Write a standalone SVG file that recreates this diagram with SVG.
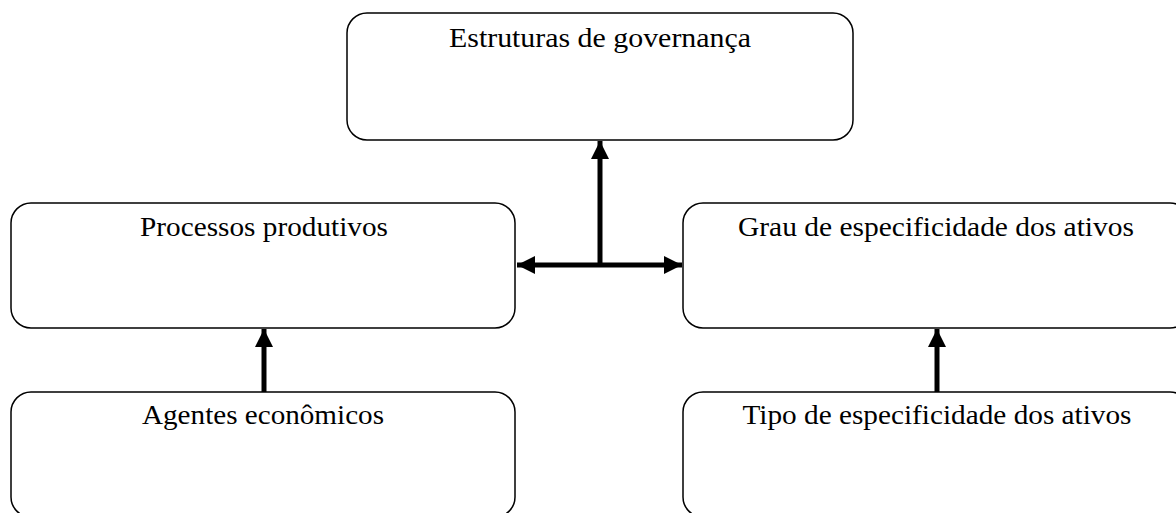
<svg xmlns="http://www.w3.org/2000/svg" width="1176" height="513" viewBox="0 0 1176 513">
<style>
.box{fill:#fff;stroke:#000;stroke-width:1.5}
.lbl{font-family:"Liberation Serif","DejaVu Serif",serif;font-size:28px;fill:#000;text-anchor:middle}
.con{stroke:#000;stroke-width:5;fill:none}
</style>
<defs>
<marker id="ah" viewBox="0 0 10 10" refX="10" refY="5" markerWidth="3.6" markerHeight="3.6" markerUnits="strokeWidth" orient="auto-start-reverse">
<path d="M0,0 L10,5 L0,10 z" fill="#000"/>
</marker>
</defs>
<rect width="1176" height="513" fill="#fff"/>
<g id="estruturas">
<rect class="box" x="347" y="13" width="506" height="127" rx="20"/>
<text class="lbl" x="600" y="47" textLength="302" lengthAdjust="spacingAndGlyphs">Estruturas de governança</text>
</g>
<g id="processos">
<rect class="box" x="11" y="203" width="504" height="125" rx="20"/>
<text class="lbl" x="264" y="236" textLength="248" lengthAdjust="spacingAndGlyphs">Processos produtivos</text>
</g>
<g id="grau">
<rect class="box" x="683" y="203" width="507" height="125" rx="20"/>
<text class="lbl" x="936" y="236" textLength="396" lengthAdjust="spacingAndGlyphs">Grau de especificidade dos ativos</text>
</g>
<g id="agentes">
<rect class="box" x="11" y="392" width="504" height="125" rx="20"/>
<text class="lbl" x="263" y="424" textLength="242" lengthAdjust="spacingAndGlyphs">Agentes econômicos</text>
</g>
<g id="tipo">
<rect class="box" x="683" y="392" width="507" height="125" rx="20"/>
<text class="lbl" x="937" y="424" textLength="389" lengthAdjust="spacingAndGlyphs">Tipo de especificidade dos ativos</text>
</g>
<g id="connectors">
<line class="con" x1="600" y1="267" x2="600" y2="141" marker-end="url(#ah)"/>
<line class="con" x1="517" y1="265" x2="682" y2="265" marker-start="url(#ah)" marker-end="url(#ah)"/>
<line class="con" x1="264" y1="392" x2="264" y2="329" marker-end="url(#ah)"/>
<line class="con" x1="937" y1="392" x2="937" y2="329" marker-end="url(#ah)"/>
</g>
</svg>
